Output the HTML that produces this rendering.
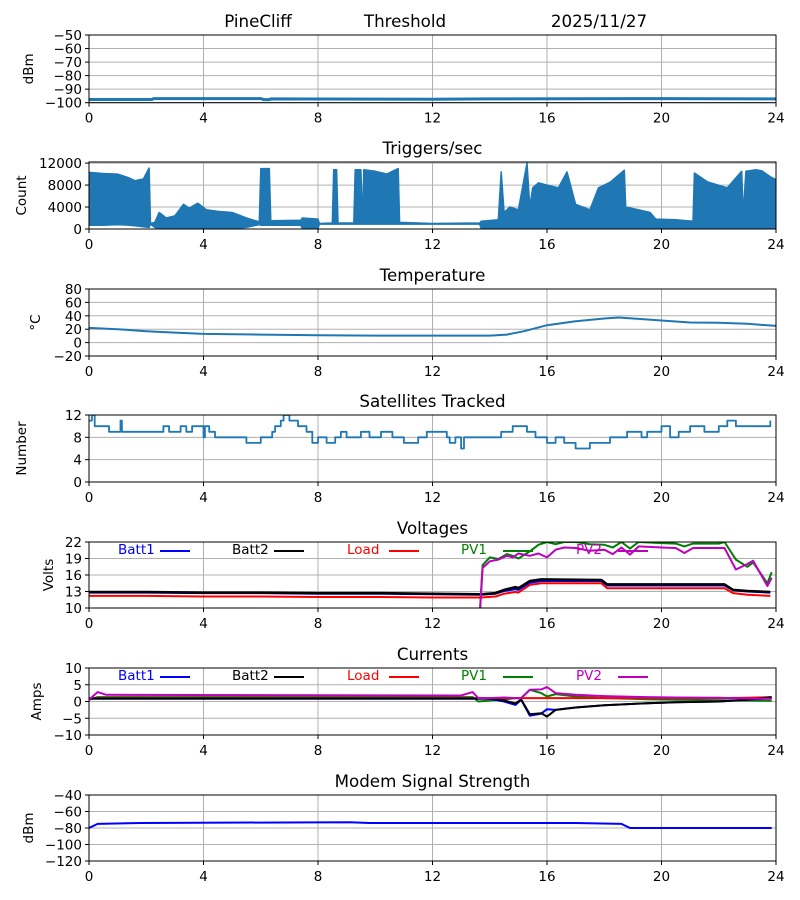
<!DOCTYPE html>
<html><head><meta charset="utf-8"><style>
body{margin:0;background:#fff;}
svg{display:block;font-family:"DejaVu Sans","Liberation Sans",sans-serif;}
</style></head><body>
<svg id="chart" width="800" height="900" viewBox="0 0 800 900" xmlns="http://www.w3.org/2000/svg">
<rect width="800" height="900" fill="#fff"/>
<text x="258" y="27" font-size="16.7" text-anchor="middle">PineCliff</text>
<text x="405" y="27" font-size="16.7" text-anchor="middle">Threshold</text>
<text x="599" y="27" font-size="16.7" text-anchor="middle">2025/11/27</text>
</svg>
<script>
// ---- data ----
const xTicks = [0,4,8,12,16,20,24];
const sigT = [0,2.2,2.25,6.0,6.1,6.3,6.35,8.0,12.0,14.0,20.0,24];
const sigV = [-97.6,-97.6,-97,-97,-97.7,-97.7,-97.2,-97.3,-97.4,-97.2,-97,-97.2];
const trigT  = [0,0.5,1.0,1.4,1.6,1.9,2.1,2.15,2.3,2.45,2.7,3.0,3.3,3.5,3.8,4.1,4.5,5.0,5.5,5.95,6.0,6.3,6.35,7.4,7.45,8.0,8.05,8.5,8.55,8.65,8.7,9.25,9.3,9.5,9.55,9.6,10.0,10.4,10.8,10.85,12.0,13.65,13.7,14.3,14.4,14.5,14.7,15.0,15.3,15.4,15.5,15.7,16.0,16.4,16.7,17.0,17.5,17.8,18.2,18.7,18.75,19.2,19.6,19.8,20.5,21.1,21.15,21.6,22.3,22.8,22.85,22.95,23.3,23.5,23.8,24];
const trigHi = [10300,10100,10000,9300,8800,9100,11100,1000,1200,3000,2000,2400,4500,3800,4700,3500,3200,3000,2000,1300,11000,11000,1500,1600,2000,1800,1000,1100,10800,10800,1100,1100,10800,10800,1100,10800,10500,10000,11000,1200,1000,1100,1400,1700,10400,3000,4000,3500,12000,4000,7500,8400,8000,7500,10400,4500,3500,7500,8500,10700,4000,3500,3000,1800,1700,1400,10200,8600,7500,10500,2500,10500,10800,10600,9500,9000];
const trigLo = [700,700,800,700,600,400,300,900,300,100,100,100,100,100,100,100,100,100,300,800,700,700,700,700,100,100,900,900,900,900,900,900,900,900,900,900,900,900,900,900,900,900,100,100,100,100,100,100,100,100,100,100,100,100,100,100,100,100,100,100,100,100,100,100,100,100,100,100,100,100,100,100,100,100,100,100];
const tempT = [0,1,2,3,4,6,8,10,12,13,14,14.6,15.2,16,17,18,18.5,19,20,21,22,23,24];
const tempV = [22,20,17,15,13,12,11,10.5,10.5,10.5,10.5,12,17,26,32,36,37.5,36,33,30,29.5,28,25];
const satT = [0,0.1,0.2,0.7,1.1,1.15,1.5,1.55,2.6,2.8,3.2,3.4,3.6,4.0,4.05,4.2,4.4,5.1,5.5,6.0,6.4,6.5,6.7,6.8,7.0,7.3,7.6,7.8,8.0,8.3,8.6,8.8,9.0,9.5,9.8,10.2,10.6,11.0,11.5,11.8,12.5,12.6,12.8,13.0,13.1,13.4,14.4,14.8,15.3,15.6,16.0,16.3,16.6,17.0,17.5,18.2,18.8,19.3,19.5,20.0,20.3,20.6,21.0,21.5,22.0,22.3,22.6,23.8];
const satV = [11,12,10,9,11,9,9,9,10,9,10,9,10,8,10,9,8,8,7,8,9,10,11,12,11,10,9,7,8,7,8,9,8,9,8,9,8,7,8,9,8,7,8,6,8,8,9,10,9,8,7,8,7,6,7,8,9,8,9,10,8,9,10,9,10,11,10,11];
const vT    = [0,2,4,6,8,10,12,13.7,14.2,14.5,14.9,15.0,15.4,15.8,17.9,18.1,20,22.2,22.5,23,23.8];
const batt1V= [12.8,12.8,12.7,12.7,12.6,12.6,12.5,12.4,12.6,13.1,13.4,13.3,14.6,14.9,14.9,14.1,14.1,14.1,13.2,13.0,12.8];
const batt2V= [12.9,12.9,12.8,12.8,12.7,12.7,12.6,12.5,12.7,13.3,13.8,13.6,14.9,15.2,15.1,14.3,14.3,14.3,13.3,13.1,12.9];
const loadV = [12.2,12.2,12.1,12.1,12.0,12.0,11.9,11.9,12.1,12.6,12.9,12.8,14.2,14.5,14.5,13.6,13.6,13.6,12.7,12.4,12.2];
const pvT   = [13.55,13.75,14.0,14.3,14.6,14.8,15.0,15.4,15.7,16.0,16.3,16.6,17.0,17.5,18.0,18.3,18.6,18.9,19.2,20.0,20.5,20.8,21.1,22.0,22.2,22.6,23.0,23.2,23.7,23.85];
const pv1V  = [0,17.8,19.2,18.9,19.8,19.5,19.0,20.3,21.5,22.0,21.6,22.0,22.0,21.6,21.5,21.0,22.0,20.8,22.0,21.8,21.7,21.2,21.7,21.7,22.0,18.8,17.5,18.3,14.5,16.5];
const pv2V  = [0,17.3,18.5,18.8,19.5,19.2,19.9,19.5,19.9,19.2,20.6,21.0,20.9,20.4,20.6,19.8,21.0,19.7,21.2,21.0,20.9,20.0,20.9,20.9,20.9,17.0,18.0,18.6,14.0,15.5];
const cT    = [0,0.3,0.6,13.0,13.4,13.6,14.0,14.5,14.9,15.1,15.4,15.8,16.0,16.3,17.0,18.0,19.5,20.5,22.0,23.0,23.85];
const batt1C= [0.8,0.8,0.8,0.8,0.8,0.8,0.8,0.0,-1.0,0.5,-4.2,-3.6,-2.3,-2.5,-1.8,-1.1,-0.5,-0.2,0.0,0.5,1.0];
const batt2C= [0.9,0.9,0.9,0.9,0.9,0.9,0.9,0.3,-0.6,0.6,-3.8,-3.5,-4.5,-2.5,-1.8,-1.1,-0.5,-0.2,0.0,0.5,1.3];
const loadC = [1.0,1.0,1.0,1.0,1.0,1.0,1.0,1.0,1.0,1.0,1.0,1.0,1.0,1.0,1.0,1.0,1.0,1.0,1.0,1.1,1.3];
const pv1C  = [0.5,1.3,1.3,1.3,1.3,0.0,0.3,0.6,1.0,1.0,3.5,2.5,1.5,2.2,1.5,1.0,0.7,0.5,0.4,0.3,0.2];
const pv2C  = [0.5,2.8,2.0,1.8,2.8,1.0,1.0,1.2,1.0,1.0,3.5,3.6,4.3,2.5,2.0,1.6,1.3,1.2,1.1,0.9,0.8];
const modT = [0,0.3,1.8,9.1,9.8,17.0,18.6,18.9,23.85];
const modV = [-80,-75,-74,-73,-74,-74,-75,-80,-80];

// ---- layout ----
const NS="http://www.w3.org/2000/svg";
const svg=document.getElementById('chart');
const L=89,R=776;
function xs(t){return L+(t/24)*(R-L);}
function mk(tag,attrs,parent){const e=document.createElementNS(NS,tag);for(const k in attrs)e.setAttribute(k,attrs[k]);(parent||svg).appendChild(e);return e;}
function panel(name,top,bot,ymin,ymax,yTicks,title,ylabel,labelFmt){
  const g=mk('g',{});
  
  
  const ys=v=>bot-(v-ymin)/(ymax-ymin)*(bot-top);
  for(const t of xTicks){const gl=mk('line',{x1:xs(t),x2:xs(t),y1:top,y2:bot,stroke:'#b0b0b0','stroke-width':1},g);
    const tk=mk('line',{x1:xs(t),x2:xs(t),y1:bot,y2:bot+4,stroke:'#000'},g);
    const tl=mk('text',{x:xs(t),y:bot+20,'font-size':13.5,'text-anchor':'middle'},g);tl.textContent=t;}
  for(const v of yTicks){const gl=mk('line',{x1:L,x2:R,y1:ys(v),y2:ys(v),stroke:'#b0b0b0','stroke-width':1},g);
    const tk=mk('line',{x1:L-4,x2:L,y1:ys(v),y2:ys(v),stroke:'#000'},g);
    const tl=mk('text',{x:L-7,y:ys(v)+5,'font-size':13.5,'text-anchor':'end'},g);tl.textContent=labelFmt?labelFmt(v):(v<0?'\u2212'+(-v):v);}
  if(title){const tt=mk('text',{x:(L+R)/2,y:top-8,'font-size':16.7,'text-anchor':'middle'},g);tt.textContent=title;}
  const yl=mk('text',{x:0,y:0,'font-size':13.5,'text-anchor':'middle',transform:`translate(${name==='dbm'||name==='modem'?33:name==='temperature'?40:name==='voltages'?53:name==='currents'?41:26},${(top+bot)/2}) rotate(-90)`},g);
  yl.textContent=ylabel;
  const cid='clip-'+name;const cp=mk('clipPath',{id:cid},g);mk('rect',{x:L,y:top,width:R-L,height:bot-top},cp);
  const plot=mk('g',{'clip-path':`url(#${cid})`},g);
  const fr=mk('rect',{x:L,y:top,width:R-L,height:bot-top,fill:'none',stroke:'#000','stroke-width':1},g);
  
  return {ys,plot,g,top,bot};
}
function line(p,T,V,color,w,name,step){
  let d='';for(let i=0;i<T.length;i++){
    if(step&&i>0)d+=`L${xs(T[i]).toFixed(1)},${p.ys(V[i-1]).toFixed(1)}`;
    d+=(i?'L':'M')+xs(T[i]).toFixed(1)+','+p.ys(V[i]).toFixed(1);}
  const e=mk('path',{d,fill:'none',stroke:color,'stroke-width':w,'stroke-linejoin':'round'},p.plot);
  
  
}
function legend(p,y){
  const items=[['Batt1','#0000ff',118],['Batt2','#000',232],['Load','#ff0000',347],['PV1','#008000',461],['PV2','#bf00bf',576]];
  for(const [lab,c,x] of items){
    const t=mk('text',{x,y:y+5,'font-size':13.5,fill:c},p.g);t.textContent=lab;
    
    
    const l=mk('line',{x1:x+42,x2:x+72,y1:y+2,y2:y+2,stroke:c,'stroke-width':2},p.g);
    
    
  }
}
const blue='#1f77b4';
const p1=panel('dbm',35,102.7,-100,-50,[-100,-90,-80,-70,-60,-50],null,'dBm');
line(p1,sigT,sigV,blue,3,'signal-line');
const p2=panel('triggers',162,229,0,12200,[0,4000,8000,12000],'Triggers/sec','Count',v=>v);
{let d='';for(let i=0;i<trigT.length;i++)d+=(i?'L':'M')+xs(trigT[i]).toFixed(1)+','+p2.ys(trigHi[i]).toFixed(1);
 for(let i=trigT.length-1;i>=0;i--)d+='L'+xs(trigT[i]).toFixed(1)+','+p2.ys(trigLo[i]).toFixed(1);
 const e=mk('path',{d:d+'Z',fill:blue,stroke:blue,'stroke-width':1.5,'stroke-linejoin':'round'},p2.plot);
 
 }
const p3=panel('temperature',289,356,-20,80,[-20,0,20,40,60,80],'Temperature','\u00B0C');
line(p3,tempT,tempV,blue,2,'temperature-line');
const p4=panel('satellites',415,482,0,12,[0,4,8,12],'Satellites Tracked','Number');
line(p4,satT,satV,blue,1.8,'satellites-line',true);
const p5=panel('voltages',542,608,10,22,[10,13,16,19,22],'Voltages','Volts');
line(p5,vT,loadV,'#ff0000',2,'load-voltage-line');
line(p5,vT,batt1V,'#0000ff',2,'batt1-voltage-line');
line(p5,vT,batt2V,'#000',2.5,'batt2-voltage-line');
line(p5,pvT,pv1V,'#008000',2,'pv1-voltage-line');
line(p5,pvT,pv2V,'#bf00bf',2,'pv2-voltage-line');
legend(p5,549);
const p6=panel('currents',668,735,-10,10,[-10,-5,0,5,10],'Currents','Amps');
line(p6,cT,pv1C,'#008000',2,'pv1-current-line');
line(p6,cT,loadC,'#ff0000',2,'load-current-line');
line(p6,cT,batt1C,'#0000ff',2,'batt1-current-line');
line(p6,cT,batt2C,'#000',2,'batt2-current-line');
line(p6,cT,pv2C,'#bf00bf',2,'pv2-current-line');
legend(p6,675);
const p7=panel('modem',795,861,-120,-40,[-120,-100,-80,-60,-40],'Modem Signal Strength','dBm');
line(p7,modT,modV,'#0000ff',2,'modem-signal-line');
</script>
</body></html>
